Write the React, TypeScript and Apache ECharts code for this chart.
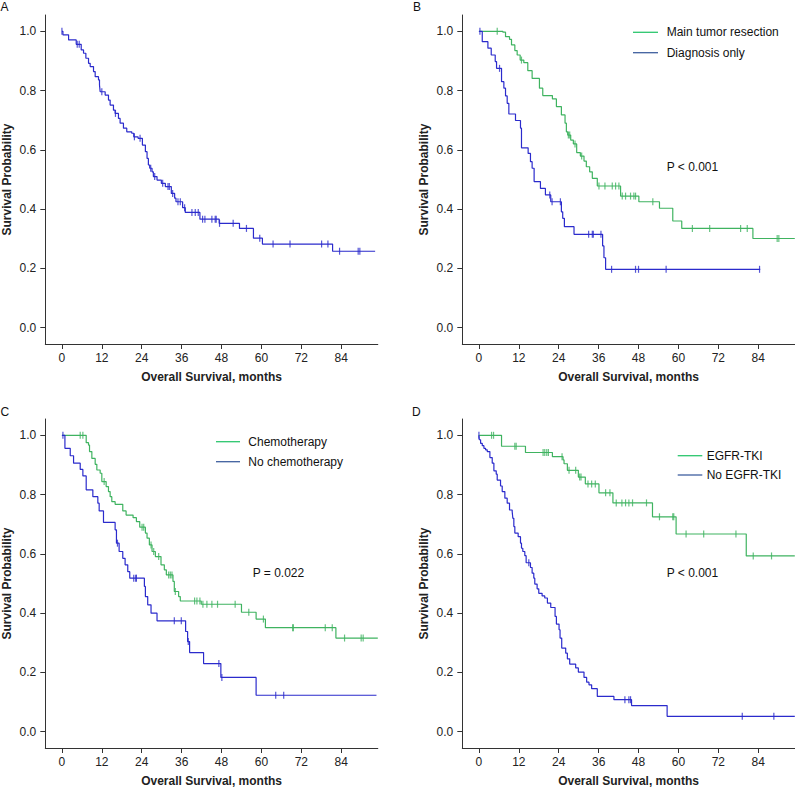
import React, { useEffect, useRef } from "react";
import * as echarts from "echarts";

// ---------- ticks ----------
const monthTicks = [0, 12, 24, 36, 48, 60, 72, 84];
const probTicks = [0, 0.2, 0.4, 0.6, 0.8, 1.0];

// ---------- Panel A: all patients ----------
const aTimes = [0.3, 2.0, 4.3, 5.8, 6.5, 7.2, 8.0, 8.5, 9.5, 10.0, 11.0, 11.3, 11.5, 13.0, 14.0, 14.5, 15.5, 16.0, 17.0, 17.5, 18.5, 19.5, 21.0, 21.6, 22.9, 24.2, 25.1, 25.6, 26.0, 26.4, 27.1, 27.5, 28.6, 29.9, 31.1, 32.9, 33.9, 34.3, 36.3, 37.1, 41.5, 47.3, 53.4, 57.6, 60.3, 81.4];
const aSurv = [0.988, 0.971, 0.956, 0.937, 0.926, 0.909, 0.892, 0.881, 0.864, 0.847, 0.836, 0.819, 0.796, 0.785, 0.768, 0.751, 0.734, 0.723, 0.706, 0.69, 0.673, 0.661, 0.656, 0.644, 0.639, 0.616, 0.594, 0.571, 0.549, 0.538, 0.526, 0.51, 0.498, 0.487, 0.476, 0.453, 0.437, 0.425, 0.405, 0.389, 0.366, 0.352, 0.335, 0.302, 0.282, 0.258];
const aCensor = [0, 4.6, 5.2, 12.0, 16.1, 21.8, 23.5, 26.7, 27.9, 30.3, 31.9, 32.3, 33.3, 34.9, 35.6, 36.9, 39.1, 40.1, 41.0, 42.3, 43.0, 45.1, 46.1, 46.4, 47.4, 51.5, 55.5, 59.5, 63.5, 68.6, 78.1, 80.0, 83.5, 89.1, 89.6];
const aEnd = 94.2;

// ---------- Panel B ----------
const bResTimes = [7.2, 8.0, 9.2, 9.8, 10.8, 11.5, 12.4, 13.5, 14.7, 16.0, 18.2, 19.2, 22.1, 23.3, 24.8, 25.9, 26.3, 26.7, 27.6, 28.4, 29.4, 30.5, 31.6, 32.3, 33.3, 34.1, 35.6, 42.6, 48.1, 54.3, 58.3, 61.0, 82.4];
const bResSurv = [0.997, 0.982, 0.973, 0.954, 0.935, 0.92, 0.903, 0.894, 0.867, 0.841, 0.808, 0.783, 0.772, 0.746, 0.718, 0.69, 0.661, 0.65, 0.633, 0.62, 0.591, 0.579, 0.562, 0.543, 0.526, 0.504, 0.478, 0.444, 0.425, 0.403, 0.36, 0.335, 0.301];
const bResCensor = [5.5, 12.8, 26.9, 27.3, 28.9, 30.9, 36.1, 37.9, 40.1, 41.1, 42.1, 43.1, 44.1, 45.6, 46.6, 47.1, 52.3, 64.2, 69.4, 78.7, 80.7, 89.7, 90.2];
const bResEnd = 95;

const bDiagTimes = [1.0, 2.7, 3.7, 4.9, 5.3, 6.8, 7.5, 8.0, 8.5, 9.0, 11.0, 12.5, 12.8, 14.8, 15.5, 16.0, 16.6, 18.5, 20.0, 21.6, 24.8, 25.2, 25.7, 28.6, 37.2, 37.6, 38.1];
const bDiagSurv = [0.965, 0.943, 0.92, 0.898, 0.875, 0.83, 0.808, 0.782, 0.757, 0.721, 0.699, 0.673, 0.607, 0.588, 0.56, 0.538, 0.493, 0.47, 0.448, 0.425, 0.391, 0.369, 0.341, 0.315, 0.276, 0.236, 0.197];
const bDiagCensor = [0.3, 6.2, 21.3, 22.0, 24.5, 33.0, 34.1, 34.4, 36.7, 39.9, 47.1, 48.0, 56.3, 84.4];
const bDiagEnd = 84.6;

// ---------- Panel C ----------
const cChemoTimes = [7.3, 8.0, 8.3, 9.0, 10.0, 10.5, 11.5, 12.0, 13.3, 14.0, 14.5, 15.0, 16.0, 18.3, 19.3, 21.4, 22.4, 23.4, 25.1, 25.6, 26.3, 27.1, 28.1, 29.8, 30.8, 31.4, 33.4, 33.8, 35.1, 35.6, 41.9, 54.0, 58.4, 61.2, 82.4];
const cChemoSurv = [0.975, 0.967, 0.945, 0.922, 0.902, 0.883, 0.872, 0.844, 0.827, 0.81, 0.793, 0.776, 0.767, 0.745, 0.731, 0.722, 0.709, 0.69, 0.67, 0.653, 0.63, 0.608, 0.591, 0.563, 0.546, 0.529, 0.507, 0.473, 0.456, 0.441, 0.43, 0.403, 0.38, 0.351, 0.316];
const cChemoCensor = [5.5, 6.3, 12.7, 24.1, 24.6, 26.8, 27.6, 29.1, 32.1, 32.6, 33.1, 34.1, 39.9, 40.6, 41.5, 42.4, 43.6, 45.1, 46.8, 52.1, 56.2, 60.6, 69.4, 69.6, 79.2, 81.3, 85.0, 90.0, 90.6];
const cChemoEnd = 95;

const cNoTimes = [0.9, 2.5, 3.5, 5.5, 6.3, 7.3, 9.3, 10.8, 11.2, 12.5, 16.0, 16.4, 17.2, 18.3, 19.0, 19.8, 20.4, 24.8, 25.1, 25.8, 26.8, 28.6, 37.2, 37.8, 38.4, 42.6, 47.8, 58.4];
const cNoSurv = [0.956, 0.931, 0.906, 0.885, 0.863, 0.816, 0.793, 0.771, 0.745, 0.706, 0.681, 0.636, 0.608, 0.585, 0.563, 0.54, 0.518, 0.49, 0.456, 0.428, 0.4, 0.374, 0.338, 0.304, 0.267, 0.23, 0.183, 0.123];
const cNoCensor = [0.3, 16.7, 21.6, 22.2, 22.4, 33.8, 35.9, 38.0, 47.2, 48.1, 64.3, 66.7];
const cNoEnd = 94.6;

// ---------- Panel D ----------
const dTkiTimes = [6.8, 14.0, 22.1, 25.3, 25.6, 26.6, 29.9, 32.0, 36.1, 40.3, 52.2, 59.3, 80.4];
const dTkiSurv = [0.963, 0.942, 0.928, 0.917, 0.904, 0.882, 0.859, 0.836, 0.806, 0.772, 0.725, 0.667, 0.593];
const dTkiCensor = [3.8, 4.4, 10.8, 11.2, 19.3, 19.8, 20.4, 20.9, 25.0, 27.1, 29.1, 30.3, 30.7, 32.8, 33.9, 35.0, 38.1, 39.4, 41.3, 43.0, 44.1, 45.1, 46.2, 50.4, 54.3, 58.3, 58.6, 62.3, 67.6, 77.3, 82.5, 88.0];
const dTkiEnd = 95;

const dNoTimes = [0.1, 0.5, 1.0, 1.5, 2.0, 2.5, 3.3, 4.0, 4.5, 5.2, 5.5, 6.5, 7.0, 7.8, 8.5, 9.2, 10.0, 10.2, 10.5, 10.8, 11.8, 12.5, 12.8, 13.2, 13.8, 14.2, 15.5, 16.0, 16.5, 16.8, 17.5, 18.0, 19.0, 19.8, 20.6, 21.6, 22.9, 23.3, 24.1, 24.4, 24.9, 26.1, 26.6, 27.3, 29.1, 29.9, 31.6, 32.4, 33.1, 33.9, 35.6, 40.6, 45.9, 56.6];
const dNoSurv = [0.985, 0.973, 0.965, 0.956, 0.951, 0.945, 0.925, 0.906, 0.88, 0.869, 0.849, 0.829, 0.81, 0.788, 0.771, 0.748, 0.743, 0.72, 0.692, 0.67, 0.658, 0.636, 0.619, 0.608, 0.594, 0.57, 0.554, 0.535, 0.518, 0.498, 0.482, 0.467, 0.458, 0.451, 0.434, 0.419, 0.389, 0.363, 0.344, 0.316, 0.282, 0.265, 0.246, 0.228, 0.215, 0.201, 0.183, 0.167, 0.158, 0.145, 0.119, 0.108, 0.088, 0.052];
const dNoCensor = [0, 15.0, 43.9, 45.1, 45.6, 79.2, 88.7];
const dNoEnd = 95;

// ---------- styling ----------
const GREEN = "#3fb360";
const BLUE = "#2b2bcc";
const LEG_GREEN = "#2cc76e";
const LEG_BLUE = "#3f5f9f";
const FONT = '"Liberation Sans", Arial, sans-serif';
const AXIS = "#333333";

function kmLine(times: number[], surv: number[], end: number) {
  const pts: number[][] = [[0, 1]];
  for (let i = 0; i < times.length; i++) pts.push([times[i], surv[i]]);
  pts.push([end, surv[surv.length - 1]]);
  return pts;
}
function survAt(times: number[], surv: number[], t: number) {
  let s = 1;
  for (let i = 0; i < times.length; i++) if (times[i] <= t) s = surv[i];
  return s;
}
function censorPts(times: number[], surv: number[], cens: number[]) {
  return cens.map((c) => [c, survAt(times, surv, c)]);
}

const grids = [
  { left: 45.3, top: 15, width: 332.5, height: 329 },
  { left: 462.3, top: 15, width: 332.5, height: 329 },
  { left: 45.3, top: 419, width: 332.5, height: 329 },
  { left: 462.3, top: 419, width: 332.5, height: 329 },
];

export default function App() {
  const ref = useRef<HTMLDivElement>(null);
  useEffect(() => {
    if (!ref.current) return;
    const chart = echarts.init(ref.current, null, { renderer: "svg" });
    const xAxes = grids.map((_, i) => ({
      type: "value",
      gridIndex: i,
      min: -5,
      max: 95,
      name: "Overall Survival, months",
      nameLocation: "middle",
      nameGap: 27,
      nameTextStyle: { fontFamily: FONT, fontSize: 12, fontWeight: "bold", color: "#222" },
      axisLine: { show: true, onZero: false, lineStyle: { color: AXIS, width: 1 } },
      axisTick: { show: true, length: 5, lineStyle: { color: AXIS }, customValues: monthTicks },
      axisLabel: { fontFamily: FONT, fontSize: 12, color: "#222", margin: 8, customValues: monthTicks },
      splitLine: { show: false },
    }));
    const yAxes = grids.map((_, i) => ({
      type: "value",
      gridIndex: i,
      min: -0.055,
      max: 1.055,
      name: "Survival Probability",
      nameLocation: "middle",
      nameGap: 32,
      nameRotate: 90,
      nameTextStyle: { fontFamily: FONT, fontSize: 12, fontWeight: "bold", color: "#222" },
      axisLine: { show: true, onZero: false, lineStyle: { color: AXIS, width: 1 } },
      axisTick: { show: true, length: 5, lineStyle: { color: AXIS }, customValues: probTicks },
      axisLabel: {
        fontFamily: FONT,
        fontSize: 12,
        color: "#222",
        margin: 9,
        customValues: probTicks,
        formatter: (v: number) => v.toFixed(1),
      },
      splitLine: { show: false },
    }));

    const curves: any[] = [
      { g: 0, t: aTimes, s: aSurv, c: aCensor, e: aEnd, color: BLUE, name: "All" },
      { g: 1, t: bResTimes, s: bResSurv, c: bResCensor, e: bResEnd, color: GREEN, name: "Main tumor resection" },
      { g: 1, t: bDiagTimes, s: bDiagSurv, c: bDiagCensor, e: bDiagEnd, color: BLUE, name: "Diagnosis only" },
      { g: 2, t: cChemoTimes, s: cChemoSurv, c: cChemoCensor, e: cChemoEnd, color: GREEN, name: "Chemotherapy" },
      { g: 2, t: cNoTimes, s: cNoSurv, c: cNoCensor, e: cNoEnd, color: BLUE, name: "No chemotherapy" },
      { g: 3, t: dTkiTimes, s: dTkiSurv, c: dTkiCensor, e: dTkiEnd, color: GREEN, name: "EGFR-TKI" },
      { g: 3, t: dNoTimes, s: dNoSurv, c: dNoCensor, e: dNoEnd, color: BLUE, name: "No EGFR-TKI" },
    ];
    const series: any[] = [];
    curves.forEach((cv) => {
      series.push({
        type: "line",
        name: cv.name,
        xAxisIndex: cv.g,
        yAxisIndex: cv.g,
        step: "end",
        showSymbol: false,
        symbol: "none",
        data: kmLine(cv.t, cv.s, cv.e),
        lineStyle: { color: cv.color, width: 1.2 },
        itemStyle: { color: cv.color },
        silent: true,
      });
      series.push({
        type: "scatter",
        name: cv.name + " censored",
        xAxisIndex: cv.g,
        yAxisIndex: cv.g,
        symbol: "rect",
        symbolSize: [1.2, 7],
        data: censorPts(cv.t, cv.s, cv.c),
        itemStyle: { color: cv.color },
        silent: true,
      });
    });

    const txt = (text: string, x: number, y: number, extra: any = {}) => ({
      type: "text",
      x,
      y,
      style: { text, fill: "#111", font: `12px ${FONT}`, align: "left", verticalAlign: "middle", ...extra },
    });
    const ln = (x1: number, x2: number, y: number, color: string) => ({
      type: "line",
      shape: { x1, y1: y, x2, y2: y },
      style: { stroke: color, lineWidth: 1.3 },
    });

    const graphic: any[] = [
      txt("A", 0.5, 1, { verticalAlign: "top" }),
      txt("B", 413, 1, { verticalAlign: "top" }),
      txt("C", 0.5, 411.5),
      txt("D", 412, 411.5),
      ln(633, 658, 32.3, LEG_GREEN),
      txt("Main tumor resection", 666.7, 32.3),
      ln(633, 658, 52.7, LEG_BLUE),
      txt("Diagnosis only", 666.7, 52.7),
      txt("P < 0.001", 666.7, 167.3),
      ln(216, 240, 441.7, LEG_GREEN),
      txt("Chemotherapy", 248.3, 441.7),
      ln(216, 240, 461.7, LEG_BLUE),
      txt("No chemotherapy", 248.3, 461.7),
      txt("P = 0.022", 252.7, 573.3),
      ln(677.7, 702.3, 455.7, LEG_GREEN),
      txt("EGFR-TKI", 706.7, 455.7),
      ln(677.7, 702.3, 475, LEG_BLUE),
      txt("No EGFR-TKI", 706.7, 475),
      txt("P < 0.001", 666.7, 573.3),
    ];

    chart.setOption({
      animation: false,
      backgroundColor: "#ffffff",
      textStyle: { fontFamily: FONT },
      grid: grids.map((g) => ({ ...g, containLabel: false, outerBoundsMode: "none" })),
      xAxis: xAxes,
      yAxis: yAxes,
      series,
      graphic,
    });
    return () => chart.dispose();
  }, []);
  return (
    <div
      ref={ref}
      style={{ position: "fixed", left: 0, top: 0, width: 795, height: 787, background: "#fff" }}
    />
  );
}
